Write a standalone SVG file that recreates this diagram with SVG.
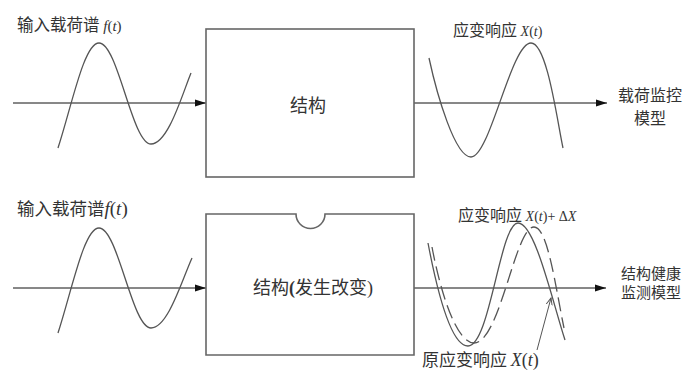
<svg xmlns="http://www.w3.org/2000/svg" width="687" height="371" viewBox="0 0 687 371">
<style>
.box{fill:#fff;stroke:#666;stroke-width:1.6}
.axis{stroke:#111;stroke-width:1;fill:none}
.wave{stroke:#555;stroke-width:1.3;fill:none}
.dash{stroke:#555;stroke-width:1.3;fill:none;stroke-dasharray:14 6}
.cjk{font-family:"Noto Sans CJK SC","Noto Sans",sans-serif;fill:#333}
.math{font-family:"Liberation Serif",serif;font-style:italic;fill:#333}
</style>
<defs>
<marker id="ah" markerWidth="12" markerHeight="8" refX="11" refY="4" orient="auto" markerUnits="userSpaceOnUse">
<path d="M0,0.5 L11,4 L0,7.5 Z" fill="#111"/>
</marker>
<marker id="oh" markerWidth="8" markerHeight="8" refX="7" refY="4" orient="auto" markerUnits="userSpaceOnUse">
<path d="M0,1 L7,4 L0,7" fill="none" stroke="#555" stroke-width="1"/>
</marker>
</defs>

<g id="connectors">
<line class="axis" x1="13" y1="103" x2="206" y2="103" marker-end="url(#ah)"/>
<line class="axis" x1="414" y1="103" x2="607" y2="103" marker-end="url(#ah)"/>
<line class="axis" x1="13" y1="288" x2="206" y2="288" marker-end="url(#ah)"/>
<line class="axis" x1="414" y1="288" x2="606" y2="288" marker-end="url(#ah)"/>
<line x1="537" y1="350" x2="551" y2="298" stroke="#555" stroke-width="1" marker-end="url(#oh)"/>
</g>

<g id="box-top">
<rect class="box" x="206" y="29" width="208" height="148"/>
<text class="cjk" x="308" y="112" font-size="18" text-anchor="middle">结构</text>
</g>

<g id="box-bottom">
<path class="box" d="M206,214 H296 A14.5,14.5 0 0 0 325,214 H414 V355 H206 Z"/>
<text class="cjk" x="313" y="294" font-size="18" text-anchor="middle">结构<tspan font-family="Liberation Serif" font-weight="bold">(</tspan>发生改变<tspan font-family="Liberation Serif">)</tspan></text>
</g>

<g id="input-top">
<path class="wave" d="M58,148 C72,105 84,43 99,43 C118,43 132,144 151,144 C168,144 182,95 191,73"/>
<text class="cjk" x="17" y="31" font-size="16.5">输入载荷谱 <tspan class="math" font-size="15">f</tspan><tspan font-family="Liberation Serif" font-size="15">(</tspan><tspan class="math" font-size="15">t</tspan><tspan font-family="Liberation Serif" font-size="15">)</tspan></text>
</g>

<g id="output-top">
<path class="wave" d="M429,58 C437,95 455,157 471,157 C490,157 511,43 531,43 C547,43 557,120 563,148"/>
<text class="cjk" x="453" y="36" font-size="16">应变响应 <tspan class="math" font-size="14">X</tspan><tspan font-family="Liberation Serif" font-size="14">(</tspan><tspan class="math" font-size="14">t</tspan><tspan font-family="Liberation Serif" font-size="14">)</tspan></text>
</g>

<g id="label-top-right">
<text class="cjk" x="650" y="101" font-size="16" text-anchor="middle">载荷监控</text>
<text class="cjk" x="650" y="124" font-size="16" text-anchor="middle">模型</text>
</g>

<g id="input-bottom">
<path class="wave" d="M58,333 C72,290 84,228 99,228 C118,228 132,328 151,328 C168,328 182,280 192,258"/>
<text class="cjk" x="17" y="215" font-size="17.5">输入载荷谱<tspan class="math" font-size="19">f</tspan><tspan font-family="Liberation Serif" font-size="19">(</tspan><tspan class="math" font-size="19">t</tspan><tspan font-family="Liberation Serif" font-size="19">)</tspan></text>
</g>

<g id="output-bottom">
<path class="wave" d="M428,243 C436,285 450,346 468,346 C490,346 500,223 518,223 C535,223 552,300 565,340"/>
<path class="dash" d="M432,247 C440,290 456,343 474,343 C500,343 515,227 534,227 C548,227 556,290 564,328"/>
<text class="cjk" x="458" y="221" font-size="16">应变响应 <tspan class="math" font-size="14">X</tspan><tspan font-family="Liberation Serif" font-size="14">(</tspan><tspan class="math" font-size="14">t</tspan><tspan font-family="Liberation Serif" font-size="14">)+ Δ</tspan><tspan class="math" font-size="14">X</tspan></text>
<text class="cjk" x="422" y="366" font-size="17">原应变响应 <tspan class="math" font-size="18">X</tspan><tspan font-family="Liberation Serif" font-size="18">(</tspan><tspan class="math" font-size="18">t</tspan><tspan font-family="Liberation Serif" font-size="18">)</tspan></text>
</g>

<g id="label-bottom-right">
<text class="cjk" x="621" y="279" font-size="15">结构健康</text>
<text class="cjk" x="621" y="298" font-size="15">监测模型</text>
</g>
</svg>
